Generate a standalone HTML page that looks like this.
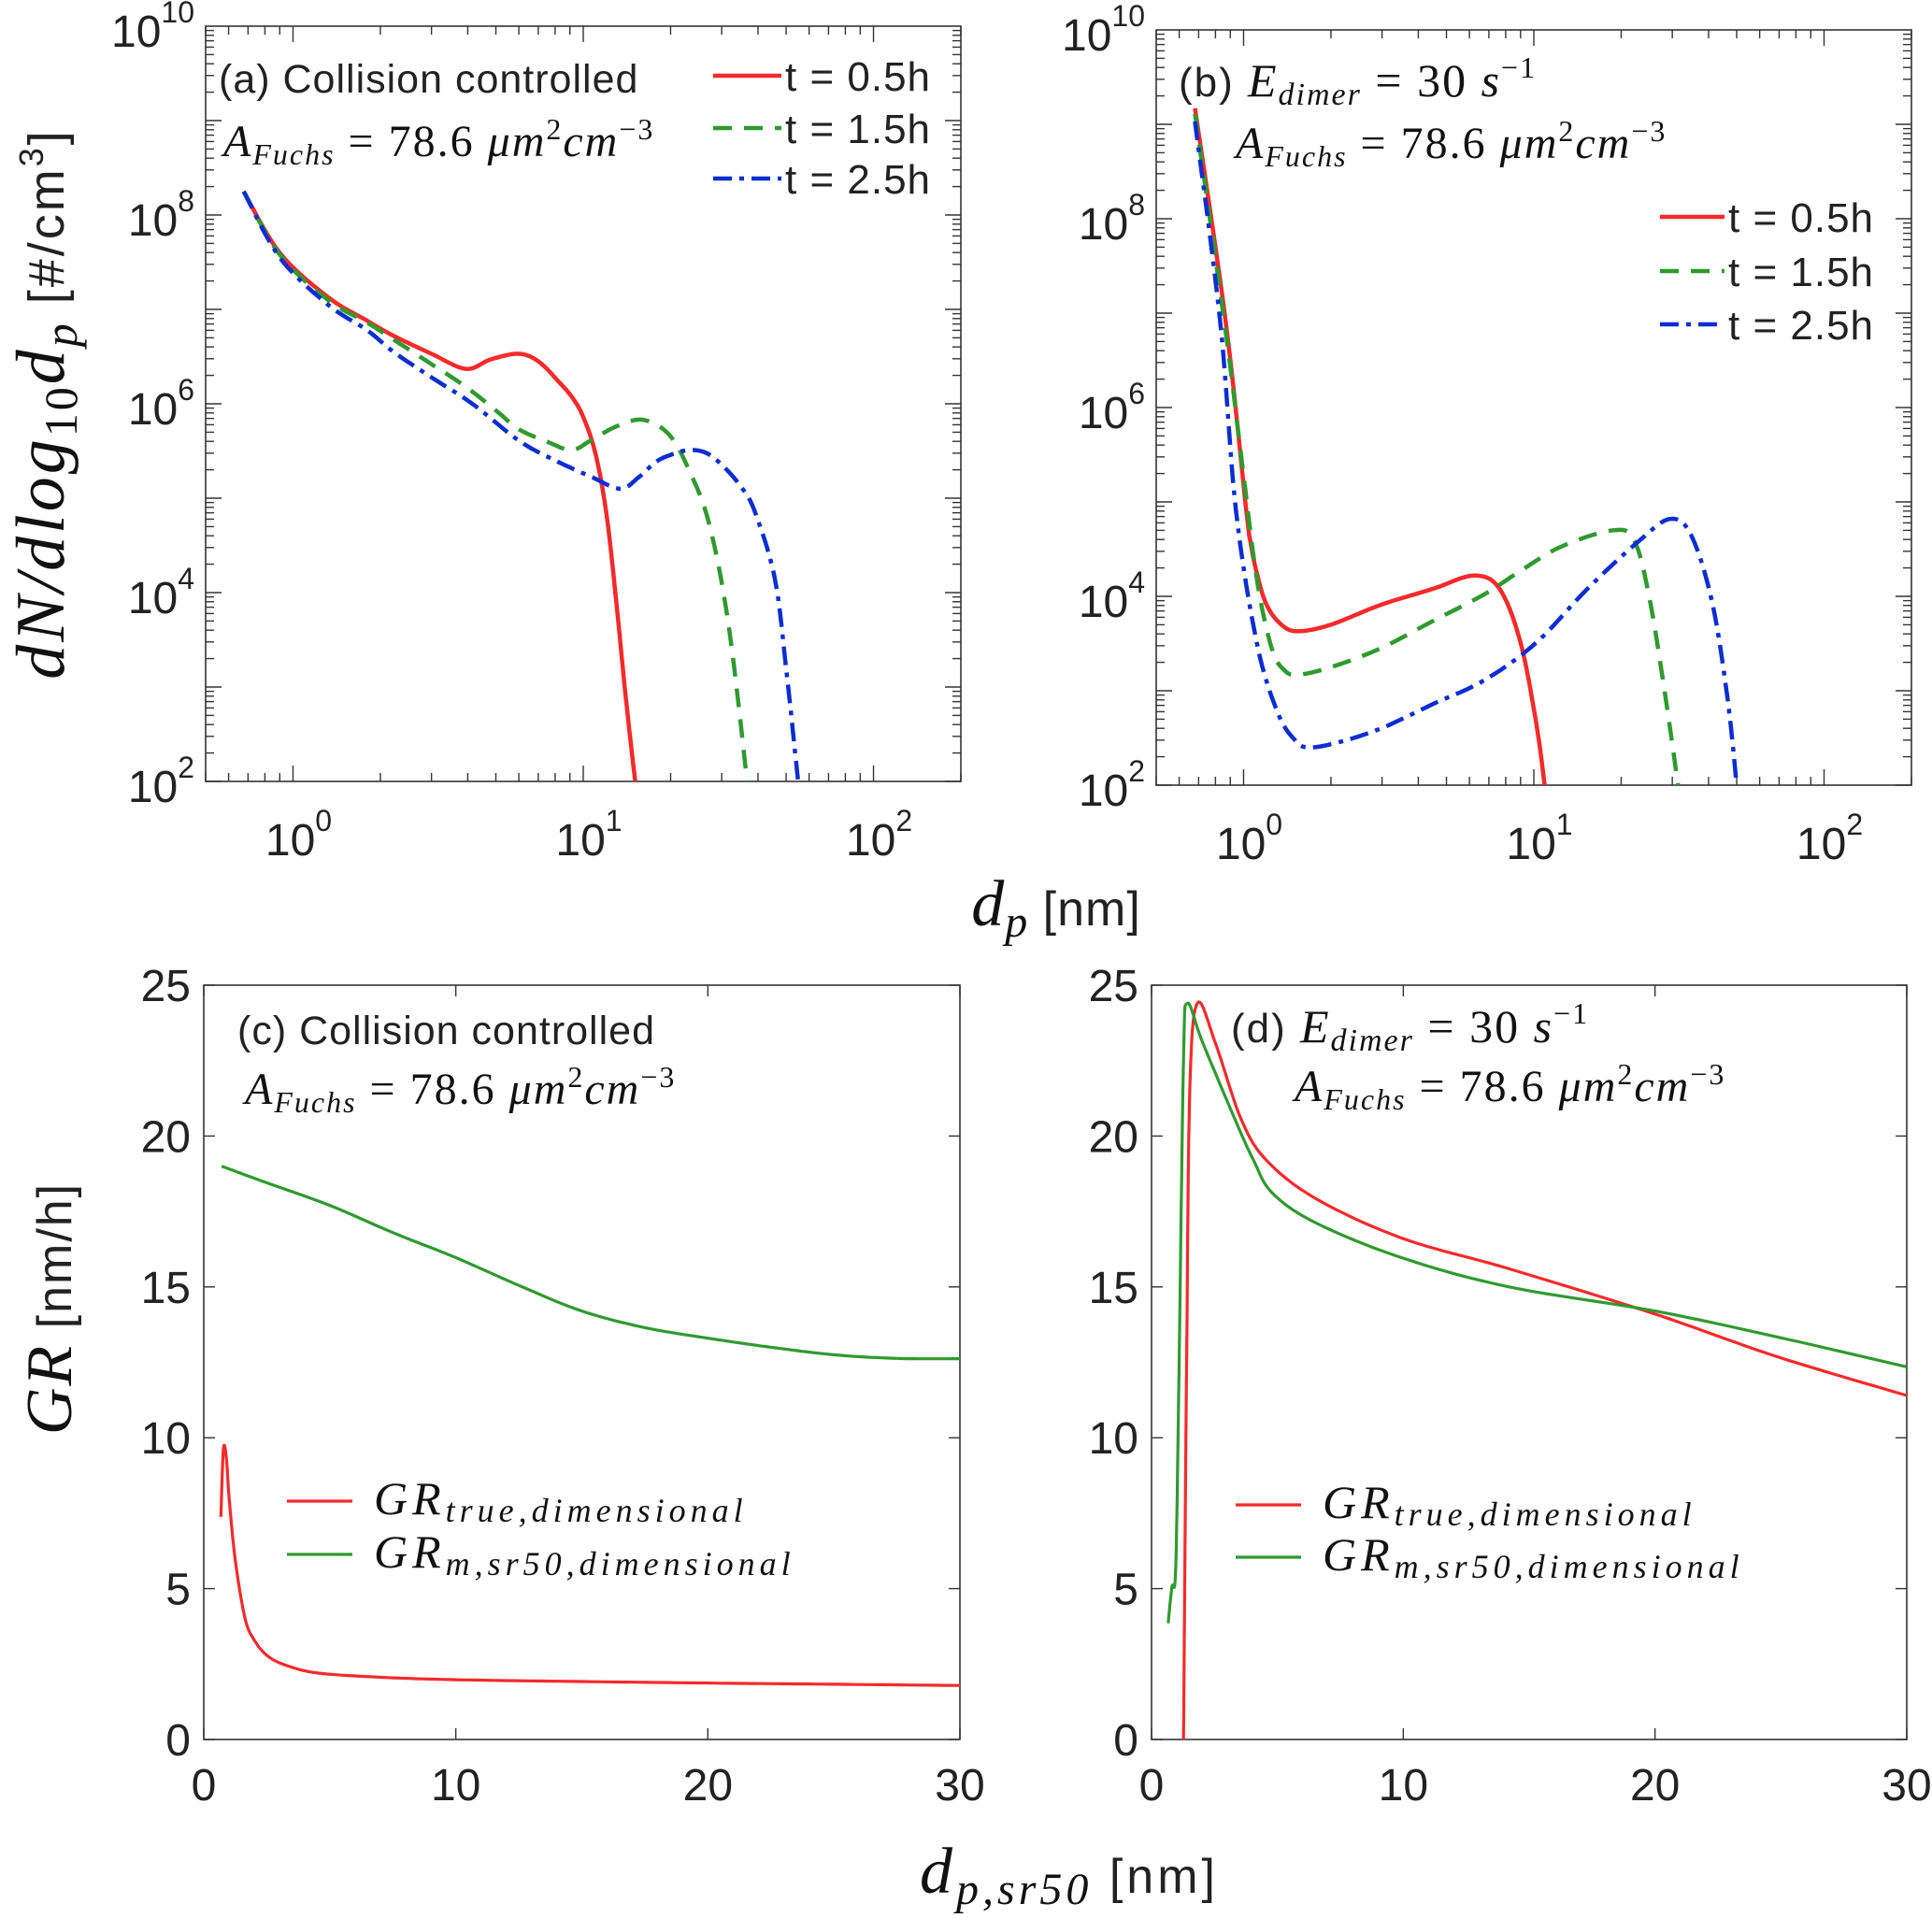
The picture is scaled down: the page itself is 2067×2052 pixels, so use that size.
<!DOCTYPE html>
<html><head><meta charset="utf-8"><style>
html,body{margin:0;padding:0;background:#fff;}
svg{display:block;}
text{font-family:"Liberation Sans",sans-serif;fill:#222;}
.m{font-family:"Liberation Serif",serif;font-style:italic;fill:#111;}
.r{font-family:"Liberation Serif",serif;font-style:normal;fill:#111;}
</style></head><body>
<svg id="fig" width="2067" height="2052" viewBox="0 0 2067 2052" xmlns="http://www.w3.org/2000/svg"></svg>
<script>
// ---- Panel (a) data: x in nm, y as log10(dN/dlog10dp) ----
const aRedX=[0.676,0.9,1.32,1.8,2.22,3.0,3.94,4.8,5.98,7.0,8.2,9.2,10.0,11.0,12.0,13.0,14.0,15.1];
const aRedLogY=[8.25,7.6,7.13,6.88,6.72,6.53,6.37,6.47,6.53,6.45,6.24,6.06,5.86,5.48,4.85,3.9,2.9,2.0];
const aGreenX=[0.676,0.9,1.32,1.8,2.22,3.0,3.94,5.0,6.0,7.5,9.1,10.6,13.0,16.1,19.8,23.2,27.2,31.7,36.7];
const aGreenLogY=[8.25,7.58,7.1,6.86,6.68,6.42,6.18,5.93,5.73,5.6,5.51,5.61,5.76,5.83,5.67,5.29,4.72,3.65,2.0];
const aBlueX=[0.676,0.9,1.32,1.8,2.22,3.0,4.15,6.0,8.0,10.6,13.4,15.5,17.9,20.5,23.2,26.5,30.1,35,39.1,45.7,50,55];
const aBlueLogY=[8.25,7.55,7.05,6.78,6.55,6.28,6.0,5.61,5.4,5.23,5.10,5.22,5.39,5.47,5.51,5.48,5.35,5.12,4.85,4.15,3.2,2.0];
// ---- Panel (b) data ----
const bRedX=[0.68,0.867,1.02,1.06,1.11,1.2,1.35,1.54,2.0,2.97,4.5,6.21,7.62,9.0,10.2,10.9];
const bRedLogY=[9.17,6.92,4.93,4.55,4.25,3.91,3.7,3.63,3.7,3.91,4.08,4.22,4.08,3.51,2.65,2.0];
const bGreenX=[0.68,0.867,0.98,1.11,1.25,1.38,1.54,2.0,2.97,4.5,6.74,9.0,12.5,18.8,22.2,25.1,28.4,31.4];
const bGreenLogY=[9.11,6.81,5.5,4.19,3.45,3.22,3.17,3.25,3.45,3.74,4.02,4.27,4.53,4.70,4.59,3.96,2.94,2.0];
const bBlueX=[0.68,0.83,0.94,1.11,1.31,1.5,1.67,2.1,2.97,4.5,6.74,10.2,15.3,23.1,29.5,34.8,41,46.4,50];
const bBlueLogY=[9.03,6.92,4.93,3.51,2.77,2.48,2.40,2.45,2.60,2.86,3.11,3.51,4.08,4.59,4.82,4.65,3.96,2.94,2.0];
// ---- Panel (c) data: GR [nm/h] vs dp,sr50 [nm] ----
const cRedX=[0.68,0.78,0.9,1.01,1.26,1.64,2.0,2.53,3.29,4.55,7.08,10.03,15,20.04,25,30];
const cRedY=[7.38,9.63,9.3,7.96,5.88,4.01,3.3,2.77,2.45,2.2,2.06,1.98,1.92,1.87,1.83,1.79];
const cGreenX=[0.71,2.5,5,7.5,10,12.5,15,17.5,20,22.5,25,27.5,30];
const cGreenY=[19.0,18.45,17.7,16.8,15.97,15.05,14.2,13.65,13.3,13.0,12.75,12.63,12.62];
// ---- Panel (d) data ----
const dRedX=[1.27,1.39,1.52,1.82,2.53,3.54,4.56,6.58,10,14.2,20,24.8,30];
const dRedY=[0,12.1,21.5,24.4,23.1,20.6,19.2,17.9,16.6,15.6,14.1,12.7,11.4];
const dGreenX=[0.66,0.81,0.96,1.09,1.27,1.42,2.03,3.29,4.05,4.81,6.58,10,14.2,20,24.8,30];
const dGreenY=[3.85,5.05,5.68,12.1,22.5,24.4,23.1,20.6,19.2,18.1,17.1,15.95,15.0,14.2,13.35,12.35];
// ---- tick labels ----
const logYTickExp=[2,4,6,8,10];
const logXTickExp=[0,1,2];
const linYTicks=[0,5,10,15,20,25];
const linXTicks=[0,10,20,30];

const NS="http://www.w3.org/2000/svg";
const svg=document.getElementById('fig');
function mk(tag,attrs,parent){const e=document.createElementNS(NS,tag);for(const k in attrs)e.setAttribute(k,attrs[k]);(parent||svg).appendChild(e);return e;}
function addText(parent,x,y,parts,size,anchor,ls){
  const t=mk('text',{x:x,y:y,'font-size':size,'text-anchor':anchor||'start'},parent);
  if(ls)t.setAttribute('letter-spacing',ls);
  parts.forEach(p=>{const s=document.createElementNS(NS,'tspan');s.textContent=p.t;
    if(p.c)s.setAttribute('class',p.c);
    if(p.dy)s.setAttribute('dy',p.dy);
    if(p.fs)s.setAttribute('font-size',p.fs);
    if(p.dx)s.setAttribute('dx',p.dx);
    t.appendChild(s);});
  return t;}

const RED='#f52a2a',GREEN='#2f9a2f',BLUE='#0a2ed1';

function panel(id,L,R,T,B){
  const g=mk('g',{});
  
  
  const clip=mk('clipPath',{id:'clip-'+id},g);
  mk('rect',{x:L,y:T,width:R-L,height:B-T},clip);
  const ax=mk('g',{},g);
  
  
  mk('rect',{x:L,y:T,width:R-L,height:B-T,fill:'none',stroke:'#333','stroke-width':1.6},ax);
  return {g,ax,clip:'url(#clip-'+id+')'};
}

function line(g,pts,color,w,dash,clip,name){
  const d=pts.map((p,i)=>(i?'L':'M')+p[0].toFixed(1)+' '+p[1].toFixed(1)).join(' ');
  const p=mk('path',{d:d,fill:'none',stroke:color,'stroke-width':w,'stroke-linejoin':'round','clip-path':clip},g);
  if(dash)p.setAttribute('stroke-dasharray',dash);
  
  
  return p;}

function smooth(pts){
  const out=[];
  for(let i=0;i<pts.length-1;i++){
    const p0=pts[Math.max(0,i-1)],p1=pts[i],p2=pts[i+1],p3=pts[Math.min(pts.length-1,i+2)];
    for(let k=0;k<12;k++){const t=k/12,t2=t*t,t3=t2*t;
      const f=(a,b,c,d)=>0.5*((2*b)+(-a+c)*t+(2*a-5*b+4*c-d)*t2+(-a+3*b-3*c+d)*t3);
      out.push([f(p0[0],p1[0],p2[0],p3[0]),f(p0[1],p1[1],p2[1],p3[1])]);}
  }
  out.push(pts[pts.length-1]);return out;}

function logPanel(id,L,R,T,B,series){
  const P=panel(id,L,R,T,B);
  const lx0=Math.log10(0.5),lx1=Math.log10(200);
  const X=v=>L+(Math.log10(v)-lx0)/(lx1-lx0)*(R-L);
  const Y=e=>B-(e-2)/8*(B-T);
  for(let dec=-1;dec<=2;dec++){for(let m=1;m<10;m++){const v=m*Math.pow(10,dec);if(v<0.5||v>200)continue;
    const x=X(v),len=m==1?17:9;
    mk('line',{x1:x,x2:x,y1:B,y2:B-len,stroke:'#333','stroke-width':1.4},P.ax);
    mk('line',{x1:x,x2:x,y1:T,y2:T+len,stroke:'#333','stroke-width':1.4},P.ax);}}
  for(let dec=2;dec<10;dec++){for(let m=1;m<10;m++){const e=dec+Math.log10(m);const y=Y(e),len=m==1?17:9;
    mk('line',{x1:L,x2:L+len,y1:y,y2:y,stroke:'#333','stroke-width':1.4},P.ax);
    mk('line',{x1:R,x2:R-len,y1:y,y2:y,stroke:'#333','stroke-width':1.4},P.ax);}}
  logYTickExp.forEach(e=>{const t=addText(P.ax,L-12,Y(e)+22,[{t:'10'},{t:String(e),dy:-26,fs:32}],48,'end');
    });
  logXTickExp.forEach(e=>{const t=addText(P.ax,X(Math.pow(10,e))+6,B+79,[{t:'10'},{t:String(e),dy:-26,fs:32}],48,'middle');
    });
  series.forEach(s=>{const pts=s.x.map((v,i)=>[X(v),Y(s.y[i])]);line(P.g,smooth(pts),s.c,4.5,s.dash,P.clip,s.name);});
  return P;}

function linPanel(id,L,R,T,B,series){
  const P=panel(id,L,R,T,B);
  const X=v=>L+v/30*(R-L);
  const Y=v=>B-v/25*(B-T);
  linXTicks.forEach(v=>{const x=X(v);
    mk('line',{x1:x,x2:x,y1:B,y2:B-12,stroke:'#333','stroke-width':1.4},P.ax);
    mk('line',{x1:x,x2:x,y1:T,y2:T+12,stroke:'#333','stroke-width':1.4},P.ax);
    const t=addText(P.ax,x,B+65,[{t:String(v)}],48,'middle');
    });
  linYTicks.forEach(v=>{const y=Y(v);
    mk('line',{x1:L,x2:L+12,y1:y,y2:y,stroke:'#333','stroke-width':1.4},P.ax);
    mk('line',{x1:R,x2:R-12,y1:y,y2:y,stroke:'#333','stroke-width':1.4},P.ax);
    const t=addText(P.ax,L-14,y+17,[{t:String(v)}],48,'end');
    });
  series.forEach(s=>{const pts=s.x.map((v,i)=>[X(v),Y(s.y[i])]);line(P.g,smooth(pts),s.c,3.2,null,P.clip,s.name);});
  return P;}

const aL=220,aR=1028,aT=28,aB=836;
const bL=1237,bR=2045,bT=32,bB=840;
const cL=218,cR=1027,cT=1054,cB=1861;
const dL=1232,dR=2040,dT=1054,dB=1861;

const DASH='20 13',DASHDOT='20 8 5 8';
const A=logPanel('a',aL,aR,aT,aB,[
 {x:aRedX,y:aRedLogY,c:RED,dash:null,name:'series-a-t0.5h'},
 {x:aGreenX,y:aGreenLogY,c:GREEN,dash:DASH,name:'series-a-t1.5h'},
 {x:aBlueX,y:aBlueLogY,c:BLUE,dash:DASHDOT,name:'series-a-t2.5h'}]);
const Bp=logPanel('b',bL,bR,bT,bB,[
 {x:bRedX,y:bRedLogY,c:RED,dash:null,name:'series-b-t0.5h'},
 {x:bGreenX,y:bGreenLogY,c:GREEN,dash:DASH,name:'series-b-t1.5h'},
 {x:bBlueX,y:bBlueLogY,c:BLUE,dash:DASHDOT,name:'series-b-t2.5h'}]);
const C=linPanel('c',cL,cR,cT,cB,[
 {x:cRedX,y:cRedY,c:RED,name:'series-c-gr-true'},
 {x:cGreenX,y:cGreenY,c:GREEN,name:'series-c-gr-m-sr50'}]);
const D=linPanel('d',dL,dR,dT,dB,[
 {x:dRedX,y:dRedY,c:RED,name:'series-d-gr-true'},
 {x:dGreenX,y:dGreenY,c:GREEN,name:'series-d-gr-m-sr50'}]);

function tLegend(P,id,x0,x1,ys){
  const g=mk('g',{},P.g);
  
  const labels=['t = 0.5h','t = 1.5h','t = 2.5h'],cols=[RED,GREEN,BLUE],ds=[null,DASH,DASHDOT];
  labels.forEach((lb,i)=>{const l=mk('line',{x1:x0,x2:x1,y1:ys[i],y2:ys[i],stroke:cols[i],'stroke-width':4.5},g);
    if(ds[i])l.setAttribute('stroke-dasharray',ds[i]);
    
    const t=addText(g,x1+4,ys[i]+16,[{t:lb}],44,'start',1);
    });}
tLegend(A,'a',763,836,[81,137,191]);
tLegend(Bp,'b',1776,1845,[232,290,347]);

function grLegend(P,id,x0,x1,y1,y2){
  const g=mk('g',{},P.g);
  
  const l1=mk('line',{x1:x0,x2:x1,y1:y1,y2:y1,stroke:RED,'stroke-width':3.2},g);
  
  const l2=mk('line',{x1:x0,x2:x1,y1:y2,y2:y2,stroke:GREEN,'stroke-width':3.2},g);
  
  const t1=addText(g,x1+23,y1+14,[{t:'GR',c:'m'},{t:'true,dimensional',c:'m',fs:36,dy:8}],50,'start',5);
  
  const t2=addText(g,x1+23,y2+14,[{t:'GR',c:'m'},{t:'m,sr50,dimensional',c:'m',fs:36,dy:8}],50,'start',5);
  }
grLegend(C,'c',307,377,1606,1663);
grLegend(D,'d',1322,1392,1610,1666);

function afuchs(P,id,x,y){const t=addText(P.g,x,y,[{t:'A',c:'m'},{t:'Fuchs',c:'m',fs:32,dy:9},{t:'  =  78.6  ',c:'r',dy:-9},{t:'μm',c:'m'},{t:'2',c:'r',fs:32,dy:-18},{t:'cm',c:'m',dy:18},{t:'−3',c:'r',fs:32,dy:-18}],48,'start',2);
  }
function edimer(P,id,x,y){const t=addText(P.g,x,y,[{t:'('+id+') ',c:''},{t:'E',c:'m',fs:50},{t:'dimer',c:'m',fs:34,dy:9},{t:'  =  30  ',c:'r',dy:-9,fs:50},{t:'s',c:'m',fs:50},{t:'−1',c:'r',fs:32,dy:-20}],44,'start',2);
  }
let t;
t=addText(A.g,234,99,[{t:'(a)  Collision controlled'}],43,'start',1);
afuchs(A,'a',239,167);
edimer(Bp,'b',1261,103);
afuchs(Bp,'b',1322,169);
t=addText(C.g,254,1117,[{t:'(c)  Collision controlled'}],43,'start',1);
afuchs(C,'c',262,1181);
edimer(D,'d',1317,1115);
afuchs(D,'d',1385,1178);

t=addText(svg,0,0,[{t:'dN/dlog',c:'m'},{t:'10',c:'r',fs:50,dy:14},{t:'d',c:'m',dy:-14},{t:'p',c:'m',fs:50,dy:14},{t:' [#/cm',dy:-14,fs:54},{t:'3',fs:36,dy:-22},{t:']',fs:54,dy:22}],74,'middle',3);
t.setAttribute('transform','translate(68,432) rotate(-90)');

t=addText(svg,0,0,[{t:'GR',c:'m'},{t:' [nm/h]',fs:52}],70,'middle',2);
t.setAttribute('transform','translate(76,1400) rotate(-90)');

t=addText(svg,1130,990,[{t:'d',c:'m',fs:70},{t:'p',c:'m',fs:48,dy:12},{t:' [nm]',dy:-12,fs:52}],68,'middle',1);

t=addText(svg,1144,2025,[{t:'d',c:'m',fs:70},{t:'p,sr50',c:'m',fs:48,dy:12},{t:' [nm]',dy:-12,fs:52}],68,'middle',4);

</script>
</body></html>
